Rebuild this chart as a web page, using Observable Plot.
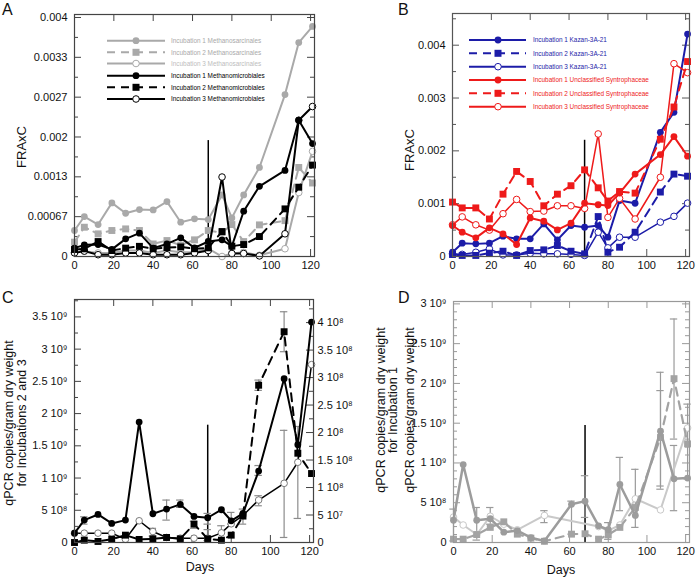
<!DOCTYPE html>
<html><head><meta charset="utf-8">
<script src="https://cdn.jsdelivr.net/npm/d3@7"></script>
<script src="https://cdn.jsdelivr.net/npm/@observablehq/plot@0.6"></script>
<style>
html,body{margin:0;padding:0;background:#fff;}
#root{position:relative;width:696px;height:577px;overflow:hidden;background:#fff;}
.pn{position:absolute;}
#ov{position:absolute;left:0;top:0;pointer-events:none;}
</style></head><body><div id="root"></div>
<script>
// ---------- data ----------
const days = [0,5,12,19,26,33,40,47,54,61,68,75,80,86,94,107,114,121];
const xTicks = [0,20,40,60,80,100,120];
const eventDay = 68;

// Panel A (FRAxC)
const aSarc1 = [0.000435,0.000669,0.000535,0.000897,0.000724,0.000786,0.00078,0.000919,0.000574,0.00063,0.000618,0.00103,0.000646,0.00103,0.00149,0.00271,0.00358,0.00385];
const aSarc2 = [0.00024,0.00049,0.000379,0.000435,0.000462,0.000435,0.00021,0.000267,0.00019,0.000279,0.000435,0.0004,0.000535,0.00025,0.000529,0.0006,0.00149,0.00123];
const aSarc3 = [0.00007,0.00009,0.00006,0.00006,0.0001,0.0001,0.00006,0.0001,0.00007,0.00007,0.00013,0.0,0.00005,0.00007,0.00002,0.00013,0.00107,0.00176];
const aMicro1 = [0.00014,0.000195,0.0002,0.00012,0.000295,0.00039,0.00014,0.00021,0.000312,0.000145,0.000251,0.000279,0.000173,0.000758,0.001175,0.00144,0.00228,0.00189];
const aMicro2 = [0.000117,0.000128,0.00025,0.0001,0.00014,0.00017,0.00013,0.00015,0.00016,0.00013,0.000145,0.000418,0.000173,0.0002,0.000334,0.000797,0.00116,0.00153];
const aMicro3 = [0.00006,0.00009,0.00003,0.00003,0.00006,0.00006,0.00003,0.00003,0.00003,0.00006,0.0001,0.00133,0.00005,0.00005,0.00001,0.00038,0.00228,0.00251];
const aTicks = [0,0.004/6,0.008/6,0.012/6,0.016/6,0.02/6,0.004];
const aTickLabels = ["0","0.00067","0.0013","0.002","0.0027","0.0033","0.004"];
const aNames = ["Incubation 1 Methanosarcinales","Incubation 2 Methanosarcinales","Incubation 3 Methanosarcinales","Incubation 1 Methanomicrobiales","Incubation 2 Methanomicrobiales","Incubation 3 Methanomicrobiales"];

// Panel B (FRAxC)
const bKaz1 = [0.000082,0.000252,0.000239,0.000252,0.000384,0.000334,0.000334,0.000617,0.000315,0.000586,0.000554,0.000586,0.000365,0.001058,0.001008,0.00235,0.00273,0.00421];
const bKaz2 = [0.000038,0.00002,0.00002,0.000063,0.0001,0.00002,0.000113,0.000126,0.000208,0.0001,0.00005,0.000756,0.00008,0.000176,0.00046,0.00122,0.00156,0.00152];
const bKaz3 = [0.00005,0.00004,0.00008,0.000145,0.00003,0.00003,0.00006,0.00005,0.00005,0.00004,0.00002,0.00046,0.000164,0.000365,0.000365,0.00065,0.00076,0.00101];
const bSyn1 = [0.000586,0.00046,0.000353,0.000542,0.000428,0.000227,0.00073,0.000668,0.000504,0.00063,0.00101,0.00098,0.000964,0.0012,0.00156,0.00193,0.00227,0.0019];
const bSyn2 = [0.00103,0.00092,0.00092,0.00071,0.00118,0.00161,0.00142,0.00096,0.00118,0.00134,0.00164,0.0013,0.00105,0.00123,0.0012,0.00222,0.00283,0.00369];
const bSyn3 = [0.0006,0.00075,0.0006,0.0005,0.00081,0.00108,0.00085,0.00086,0.00096,0.00096,0.00091,0.00232,0.00074,0.0011,0.00071,0.0015,0.00365,0.00348];
const bTicks = [0,0.001,0.002,0.003,0.004];
const bTickLabels = ["0","0.001","0.002","0.003","0.004"];
const bNames = ["Incubation 1 Kazan-3A-21","Incubation 2 Kazan-3A-21","Incubation 3 Kazan-3A-21","Incubation 1 Unclassified Syntrophaceae","Incubation 2 Unclassified Syntrophaceae","Incubation 3 Unclassified Syntrophaceae"];

// Panel C (qPCR copies / g dry weight); Inc1 on right axis
const cInc1 = [1.70e7,4.07e7,5.1e7,3.47e7,4.07e7,2.19e8,5.23e7,6.08e7,6.93e7,4.74e7,4.5e7,5.96e7,3.95e7,5.29e7,1.30e8,2.98e8,1.78e8,4.01e8];
const cInc2 = [0,3.6e7,1.6e7,5.2e7,1.14e8,4.7e7,5.7e7,7.8e7,5.7e7,2.85e8,5.7e7,3.6e7,1.14e8,4.1e8,2.44e9,3.27e9,1.385e9,1.07e9];
const cInc3 = [1.45e8,1.45e8,1.45e8,1.45e8,5e7,3.37e8,1.7e8,7.8e7,6.7e7,6.7e7,6.7e7,1.5e8,2.9e8,4.2e8,6.59e8,9.18e8,1.245e9,2.76e9];
const cErr1 = [[5,3.34e7,4.68e7],[47,4.07e7,7.72e7],[54,6.38e7,7.72e7],[68,3.34e7,5.29e7],[86,3.34e7,6.08e7],[94,1.22e8,1.40e8]];
const cErr23 = [[40,1.0e8,2.2e8],[61,2.2e8,3.3e8],[68,3e7,2.0e8],[75,5.2e7,2.6e8],[80,2.85e8,4.67e8],[94,2.36e9,2.52e9],[94,5.7e8,7.26e8],[107,2.96e9,3.58e9],[107,7.8e7,1.74e9],[114,3.73e8,1.8e9]];
const cLeftTicks = [0,5e8,1e9,1.5e9,2e9,2.5e9,3e9,3.5e9];
const cLeftLabels = ["0","5 10⁸","1 10⁹","1.5 10⁹","2 10⁹","2.5 10⁹","3 10⁹","3.5 10⁹"];
const cRightTicks = [0,5e7,1e8,1.5e8,2e8,2.5e8,3e8,3.5e8,4e8];
const cRightLabels = ["0","5 10⁷","1 10⁸","1.5 10⁸","2 10⁸","2.5 10⁸","3 10⁸","3.5 10⁸","4 10⁸"];

// Panel D
const dInc1 = [2.8e8,9.8e8,2.8e8,3.0e8,1.3e8,1.5e8,6e7,2e7,null,4.8e8,5.2e8,2.1e8,1.6e8,7.3e8,3.4e8,1.4e9,8.0e8,8.1e8];
const dInc2 = [4.2e7,4.2e7,1.0e8,1.9e8,2.6e8,1.05e8,5.5e7,1.5e7,null,1.05e8,1.1e8,4.2e7,9.6e7,1.9e8,4.4e8,1.32e9,2.06e9,1.24e9];
const dInc3 = [3.2e8,2.2e8,1.0e8,3.3e8,2.3e8,1.6e8,null,3.4e8,null,null,null,2.0e8,1.5e8,2.2e8,5.5e8,4.1e8,null,1.44e9];
const dErr = [[0,2e7,4.2e8],[12,3e7,4.4e8],[19,2.3e8,4.4e8],[47,2.5e8,4.0e8],[61,1.05e8,5.2e8],[68,3.15e8,8.4e8],[80,4e7,2.5e8],[86,4e8,1.07e9],[94,1.9e8,9.2e8],[107,6.7e8,2.14e9],[107,7.1e8,1.91e9],[114,1.3e9,2.81e9],[114,4e8,1.22e9],[121,8e8,1.74e9]];
const dTicks = [0,5e8,1e9,1.5e9,2e9,2.5e9,3e9];
const dTickLabels = ["0","5 10⁸","1 10⁹","1.5 10⁹","2 10⁹","2.5 10⁹","3 10⁹"];

// ---------- helpers ----------
const FONT = "'Liberation Sans', Arial, Helvetica, sans-serif";
const GREY = "#a9a9a9", BLUE = "#1c1ca8", RED = "#ee1a1a";
const DASH = "8,6";

function rowsOf(vals, scale = 1) {
  return days.map((d, i) => ({day: d, v: vals[i] == null ? null : vals[i] * scale})).filter(r => r.v != null);
}
function seriesMarks(vals, color, shape, dash, scale = 1, lw = 2, markColor = color) {
  const rows = rowsOf(vals, scale);
  const o = {x: "day", y: "v", stroke: color, strokeWidth: lw};
  if (dash) o.strokeDasharray = dash;
  const ms = [Plot.line(rows, o)];
  if (shape === "square") ms.push(Plot.dot(rows, {x: "day", y: "v", symbol: "square", r: 3.9, fill: markColor, stroke: "none"}));
  else if (shape === "filled") ms.push(Plot.dot(rows, {x: "day", y: "v", r: 3.4, fill: markColor, stroke: "none"}));
  else ms.push(Plot.dot(rows, {x: "day", y: "v", r: 3.3, fill: "white", stroke: markColor, strokeWidth: 1}));
  return ms;
}
function errMarks(list, color, scale = 1) {
  const e = list.map(([d, lo, hi]) => ({day: d, lo: lo * scale, hi: hi * scale}));
  return [
    Plot.ruleX(e, {x: "day", y1: "lo", y2: "hi", stroke: color, strokeWidth: 1.2}),
    Plot.ruleY(e, {y: "lo", x1: d => d.day - 1.9, x2: d => d.day + 1.9, stroke: color, strokeWidth: 1.2}),
    Plot.ruleY(e, {y: "hi", x1: d => d.day - 1.9, x2: d => d.day + 1.9, stroke: color, strokeWidth: 1.2})
  ];
}
function frameTicks(cfg, iw, ih) {
  const fc = cfg.frameColor;
  const ms = [];
  const majL = 7, minL = 4;
  ms.push(Plot.tickY(cfg.yMajor, {y: d => d, stroke: fc, insetRight: iw - majL}));
  ms.push(Plot.tickY(cfg.yMinor, {y: d => d, stroke: fc, insetRight: iw - minL}));
  const rMaj = cfg.rMajor || cfg.yMajor, rMin = cfg.rMinor || cfg.yMinor;
  ms.push(Plot.tickY(rMaj, {y: d => d, stroke: fc, insetLeft: iw - majL}));
  ms.push(Plot.tickY(rMin, {y: d => d, stroke: fc, insetLeft: iw - minL}));
  ms.push(Plot.tickX(xTicks, {x: d => d, stroke: fc, insetBottom: ih - majL}));
  ms.push(Plot.tickX(xTicks, {x: d => d, stroke: fc, insetTop: ih - majL}));
  return ms;
}
function panel(cfg) {
  const iw = cfg.width - cfg.mL - cfg.mR, ih = cfg.height - cfg.mT - cfg.mB;
  const lab = new Map(cfg.yMajor.map((t, i) => [t, cfg.yLabels[i]]));
  const marks = [
    ...frameTicks(cfg, iw, ih),
    Plot.axisY({ticks: cfg.yMajor, tickSize: 0, tickPadding: 7, tickFormat: d => lab.get(d), label: null, fill: "#111"}),
    Plot.axisX({ticks: xTicks, tickSize: 0, tickPadding: 5, tickFormat: d => String(d), label: null, fill: "#111"}),
  ];
  if (cfg.rLabels) {
    const rl = new Map(cfg.rMajor.map((t, i) => [t, cfg.rLabels[i]]));
    marks.push(Plot.axisY({anchor: "right", ticks: cfg.rMajor, tickSize: 0, tickPadding: 4, tickFormat: d => rl.get(d), label: null, fill: "#111"}));
  }
  marks.push(Plot.ruleX([eventDay], {x: d => d, y1: 0, y2: cfg.vTop, stroke: "black", strokeWidth: 1.5}));
  marks.push(...cfg.data);
  marks.push(Plot.frame({stroke: cfg.frameColor, strokeWidth: 1.2}));
  const svg = Plot.plot({
    width: cfg.width, height: cfg.height,
    marginLeft: cfg.mL, marginRight: cfg.mR, marginTop: cfg.mT, marginBottom: cfg.mB,
    x: {domain: [0, 122], axis: null},
    y: {domain: [0, cfg.yMax], axis: null},
    style: {fontFamily: FONT, fontSize: "11px", background: cfg.bg || "white", overflow: cfg.overflow || "hidden", color: "#111"},
    marks
  });
  svg.classList.add("pn");
  svg.style.left = cfg.left + "px";
  svg.style.top = cfg.top + "px";
  return svg;
}
const halfSteps = (ticks) => ticks.slice(1).map((t, i) => (t + ticks[i]) / 2);
const range = (a, b, s) => d3.range(Math.round((b - a) / s) + 1).map(i => a + i * s);

const root = document.getElementById("root");

// ---------- Panel A ----------
root.appendChild(panel({
  left: 0, top: 0, width: 348, height: 290, mL: 74, mR: 34, mT: 14, mB: 34,
  yMax: 0.00405, yMajor: aTicks, yLabels: aTickLabels, yMinor: halfSteps(aTicks),
  frameColor: "#444", vTop: 0.00194,
  data: [
    ...seriesMarks(aSarc3, GREY, "open", null),
    ...seriesMarks(aSarc2, GREY, "square", DASH),
    ...seriesMarks(aSarc1, GREY, "filled", null),
    ...seriesMarks(aMicro3, "black", "open", null),
    ...seriesMarks(aMicro2, "black", "square", DASH),
    ...seriesMarks(aMicro1, "black", "filled", null),
  ]
}));

// ---------- Panel B ----------
root.appendChild(panel({
  left: 348, top: 0, width: 348, height: 290, mL: 104, mR: 7, mT: 13, mB: 34,
  yMax: 0.0046, yMajor: bTicks, yLabels: bTickLabels, yMinor: range(0.0005, 0.0045, 0.001),
  frameColor: "#555", vTop: 0.0022,
  data: [
    ...seriesMarks(bKaz3, BLUE, "open", null, 1, 1.5),
    ...seriesMarks(bKaz2, BLUE, "square", DASH, 1, 2),
    ...seriesMarks(bKaz1, BLUE, "filled", null, 1, 2),
    ...seriesMarks(bSyn3, RED, "open", null, 1, 1.5),
    ...seriesMarks(bSyn2, RED, "square", DASH, 1, 2),
    ...seriesMarks(bSyn1, RED, "filled", null, 1, 2),
  ]
}));

// ---------- Panel D (drawn before C so C's right-axis labels stay visible) ----------
root.appendChild(panel({
  left: 348, top: 290, width: 348, height: 287, mL: 105, mR: 7, mT: 11, mB: 35,
  yMax: 3.03e9, yMajor: dTicks, yLabels: dTickLabels, yMinor: range(1e8, 3e9, 1e8).filter(v => Math.abs(v / 5e8 - Math.round(v / 5e8)) > 1e-6),
  frameColor: "#999", vTop: 1.47e9,
  data: [
    ...errMarks(dErr, "#9a9a9a"),
    ...seriesMarks(dInc3, "#c9c9c9", "open", null, 1, 2),
    ...seriesMarks(dInc2, "#a3a3a3", "square", DASH, 1, 2.2),
    ...seriesMarks(dInc1, "#9c9c9c", "filled", null, 1, 2.5),
  ]
}));

// ---------- Panel C ----------
const cLeftMax = 3.77e9, cRightMax = 4.42e8, cRatio = cLeftMax / cRightMax;
const cR = cRightTicks.map(v => v * cRatio);
root.appendChild(panel({
  left: 0, top: 290, width: 348, height: 287, mL: 74, mR: 35, mT: 9, mB: 35,
  yMax: cLeftMax, yMajor: cLeftTicks, yLabels: cLeftLabels, yMinor: range(2.5e8, 3.75e9, 5e8),
  rMajor: cR, rLabels: cRightLabels, rMinor: range(2.5e7, 4.25e8, 5e7).map(v => v * cRatio),
  frameColor: "#444", vTop: 1.82e9, overflow: "visible",
  data: [
    ...errMarks(cErr23, "#8c8c8c"),
    ...errMarks(cErr1, "#8c8c8c", cRatio),
    ...seriesMarks(cInc3, "black", "open", null, 1, 1.5, "#7a7a7a"),
    ...seriesMarks(cInc2, "black", "square", DASH),
    ...seriesMarks(cInc1, "black", "filled", null, cRatio),
  ]
}));

// ---------- overlay: panel letters, titles, legends ----------
const ov = d3.select(root).append("svg").attr("id", "ov").attr("width", 696).attr("height", 577)
  .style("font-family", FONT);
function txt(x, y, s, size, opts = {}) {
  const t = ov.append("text").attr("x", x).attr("y", y).attr("font-size", size).attr("fill", opts.fill || "#111").text(s);
  if (opts.anchor) t.attr("text-anchor", opts.anchor);
  if (opts.rot != null) t.attr("transform", `rotate(${opts.rot},${x},${y})`);
  return t;
}
txt(2, 15, "A", 16);
txt(398, 15, "B", 16);
txt(2, 303, "C", 16);
txt(398, 303, "D", 16);
txt(26, 147, "FRAxC", 13, {anchor: "middle", rot: -90});
txt(414, 150, "FRAxC", 13, {anchor: "middle", rot: -90});
txt(13, 423, "qPCR copies/gram dry weight", 12.5, {anchor: "middle", rot: -90});
txt(26, 423, "for Incubations 2 and 3", 12.5, {anchor: "middle", rot: -90});
txt(385, 410, "qPCR copies/gram dry weight", 12.5, {anchor: "middle", rot: -90});
txt(397, 410, "for Incubation 1", 12.5, {anchor: "middle", rot: -90});
txt(414, 410, "qPCR copies/gram dry weight", 12.5, {anchor: "middle", rot: -90});
txt(200, 571, "Days", 12.5, {anchor: "middle"});
txt(561, 574, "Days", 12.5, {anchor: "middle"});

function legend(x0, x1, xm, xt, ys, names, styles) {
  names.forEach((n, i) => {
    const s = styles[i], y = ys[i];
    const l = ov.append("line").attr("x1", x0).attr("x2", x1).attr("y1", y).attr("y2", y)
      .attr("stroke", s.color).attr("stroke-width", s.lw || 2);
    if (s.dash) l.attr("stroke-dasharray", s.dash);
    if (s.shape === "square") ov.append("rect").attr("x", xm - 3.5).attr("y", y - 3.5).attr("width", 7).attr("height", 7).attr("fill", s.color);
    else if (s.shape === "filled") ov.append("circle").attr("cx", xm).attr("cy", y).attr("r", 3.4).attr("fill", s.color);
    else ov.append("circle").attr("cx", xm).attr("cy", y).attr("r", 3.3).attr("fill", "white").attr("stroke", s.color);
    txt(xt, y + 2.3, n, 6.4, {fill: s.textColor || s.color});
  });
}
legend(107, 165, 136, 171, [40.7, 52.3, 63.5, 75.7, 87.3, 99], aNames, [
  {color: GREY, shape: "filled"}, {color: GREY, shape: "square", dash: DASH}, {color: GREY, shape: "open", textColor: "#bdbdbd"},
  {color: "black", shape: "filled"}, {color: "black", shape: "square", dash: DASH}, {color: "black", shape: "open"}
]);
legend(469, 526, 498, 533, [40, 53.3, 66.7, 80, 93.3, 106.7], bNames, [
  {color: BLUE, shape: "filled"}, {color: BLUE, shape: "square", dash: DASH}, {color: BLUE, shape: "open"},
  {color: RED, shape: "filled"}, {color: RED, shape: "square", dash: DASH}, {color: RED, shape: "open"}
]);
</script></body></html>
